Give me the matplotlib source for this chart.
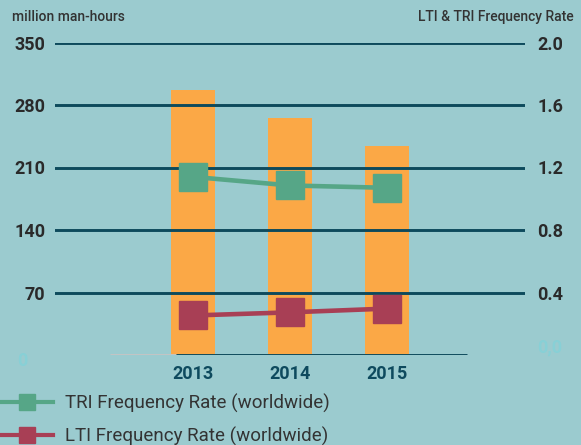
import numpy as np
import matplotlib
matplotlib.use("Agg")
import matplotlib.pyplot as plt
from matplotlib.lines import Line2D

plt.rcParams['font.family'] = ['Roboto', 'DejaVu Sans']

# data
years = ['2013', '2014', '2015']
man_hours = [297, 265, 234]          # million man-hours (left axis)
tri_rate = [1.14, 1.085, 1.07]       # TRI frequency rate (right axis)
lti_rate = [0.253, 0.273, 0.297]     # LTI frequency rate (right axis)
left_ticks = [0, 70, 140, 210, 280, 350]
right_ticks = [0.0, 0.4, 0.8, 1.2, 1.6, 2.0]

bg = '#9bcbcf'
grid_col = '#0d4a5c'
orange = '#fba846'
green = '#56a687'
red = '#a83f55'
text_col = '#2a2a2a'
faint = '#88d0d6'

W, H = 581, 445
fig = plt.figure(figsize=(W / 100, H / 100), dpi=100, facecolor=bg)
ax = fig.add_axes([55 / W, 1 - 355 / H, (525 - 55) / W, (355 - 42.5) / H])
ax.set_facecolor(bg)

x = np.arange(len(years))
ax.bar(x, man_hours, width=0.454, color=orange, zorder=2)

# gridlines drawn over the bars
for t in left_ticks[1:]:
    ax.axhline(t, color=grid_col, lw=2.1, zorder=3)
ax.hlines(0, -0.856, -0.175, color='#c4c4c4', lw=2.1, zorder=3)
ax.hlines(0, -0.175, 2.825, color=grid_col, lw=2.1, zorder=3)

ax.set_xlim(-1.423, 3.423)
ax.set_ylim(0, 350)
ax.set_yticks(left_ticks)
ax.set_yticklabels([''] + [str(t) for t in left_ticks[1:]])
ax.tick_params(axis='y', length=0, pad=7, labelsize=13, labelcolor=text_col)
for lab in ax.get_yticklabels():
    lab.set_fontweight('bold')
ax.set_xticks(x)
ax.set_xticklabels(years, fontsize=13, fontweight='bold', color='#0e4a5e')
ax.tick_params(axis='x', length=0, pad=7)
for s in ax.spines.values():
    s.set_visible(False)

ax2 = ax.twinx()
ax2.set_ylim(0, 2.0)
ax2.plot(x, tri_rate, color=green, lw=3.3, marker='s', markersize=20, zorder=4)
ax2.plot(x, lti_rate, color=red, lw=3.3, marker='s', markersize=20, zorder=4)
ax2.set_yticks(right_ticks)
ax2.set_yticklabels([''] + [f'{t:.1f}' for t in right_ticks[1:]])
ax2.tick_params(axis='y', length=0, pad=9, labelsize=13, labelcolor=text_col)
for lab in ax2.get_yticklabels():
    lab.set_fontweight('bold')
for s in ax2.spines.values():
    s.set_visible(False)

# faint zero labels, offset as in the original
fig.text(22 / W, 1 - 361 / H, str(left_ticks[0]), fontsize=13, fontweight='bold',
         color=faint, ha='center', va='center')
fig.text(537 / W, 1 - 347 / H, f'{right_ticks[0]:.1f}'.replace('.', ','), fontsize=13,
         fontweight='bold', color=faint, ha='left', va='center')

fig.text(12 / W, 1 - 17 / H, 'million man-hours', fontsize=10, color='#333333',
         va='center', ha='left', fontweight='medium')
fig.text(574 / W, 1 - 17 / H, 'LTI & TRI Frequency Rate', fontsize=10, color='#333333',
         va='center', ha='right', fontweight='medium')

handles = [Line2D([], [], color=green, lw=3, marker='s', markersize=11.5),
           Line2D([], [], color=red, lw=3, marker='s', markersize=11.5)]
fig.legend(handles, ['TRI Frequency Rate (worldwide)', 'LTI Frequency Rate (worldwide)'],
           loc='upper left', bbox_to_anchor=(2 / W, 1 - 394 / H), frameon=False,
           fontsize=13.5, labelcolor='#333333', handlelength=2.7, handletextpad=0.65,
           labelspacing=0.72, borderpad=0, borderaxespad=0)

fig.savefig('out.png', dpi=100, facecolor=bg)
